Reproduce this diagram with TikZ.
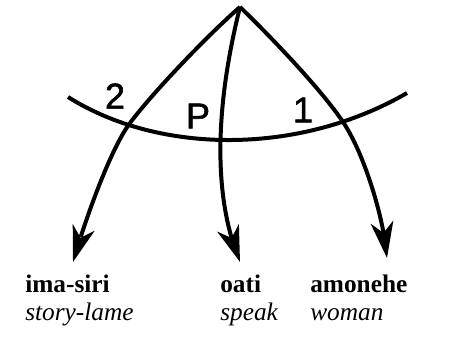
\documentclass[tikz,border=0pt]{standalone}
\usepackage{fontspec}
\setmainfont{Liberation Serif}
\newfontfamily\lblfont[FakeBold=1.5]{Liberation Sans}
\usetikzlibrary{arrows.meta,bending}
\begin{document}
\begin{tikzpicture}[x=0.75pt,y=-0.75pt,
  curve/.style={line width=3pt,-{Stealth[length=27pt,width=17pt,inset=8pt,flex]}},
  word/.style={anchor=base west,inner sep=0pt,font=\fontsize{19}{22}\selectfont\bfseries},
  gloss/.style={anchor=base west,inner sep=0pt,font=\fontsize{19}{22}\selectfont\itshape},
  rolelbl/.style={inner sep=0pt,font=\lblfont\fontsize{27}{30}\selectfont}]
\useasboundingbox (0,0) rectangle (453,347);
\coordinate (apex) at (240,7);
\coordinate (t2) at (73,262);
\coordinate (tp) at (240,262);
\coordinate (t1) at (387,258);
\coordinate (al) at (68,97);
\coordinate (ar) at (407,93);
\coordinate (l2) at (130,123);
\coordinate (r2) at (343,122);
\draw[curve] (apex) .. controls (210,33) and (154,91) .. (l2)
                    .. controls (109,151) and (83,227) .. (t2);
\draw[curve] (apex) .. controls (218,95) and (210,190) .. (tp);
\draw[curve] (apex) .. controls (269,35) and (321,89) .. (r2)
                    .. controls (364,153) and (384,218) .. (t1);
\draw[line width=3pt] (al) .. controls (160,155) and (300,155) .. (ar);
\node[rolelbl] (n2) at (115,96) {2};
\node[rolelbl] (nP) at (198,116) {P};
\node[rolelbl] (n1) at (303,110) {1};
\node[word] (w1) at (25,292) {ima-siri};
\node[gloss] (g1) at (25,320) {story-lame};
\node[word] (w2) at (220,292) {oati};
\node[gloss] (g2) at (220,320) {speak};
\node[word] (w3) at (310,292) {amonehe};
\node[gloss] (g3) at (310,320) {woman};
\end{tikzpicture}
\end{document}
